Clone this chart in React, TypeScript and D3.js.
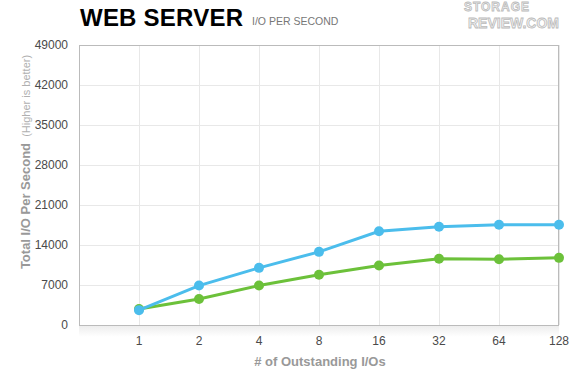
import { useEffect, useRef } from "react";
import * as d3 from "d3";

const queueDepths = ["1", "2", "4", "8", "16", "32", "64", "128"];
const blueSeries = [2600, 6900, 10000, 12800, 16400, 17200, 17550, 17550];
const greenSeries = [2800, 4550, 6900, 8800, 10400, 11600, 11500, 11750];
const yTicks = [0, 7000, 14000, 21000, 28000, 35000, 42000, 49000];

const W = 580;
const H = 390;
const margin = { top: 45, right: 21, bottom: 65, left: 79 };

const App = () => {
  const ref = useRef<SVGSVGElement>(null);

  useEffect(() => {
    const svg = d3.select(ref.current);
    svg.selectAll("*").remove();
    const font = "'Liberation Sans', Arial, Helvetica, sans-serif";

    const x = d3
      .scalePoint()
      .domain(["", ...queueDepths])
      .range([margin.left, W - margin.right]);
    const y = d3
      .scaleLinear()
      .domain([0, 49000])
      .range([H - margin.bottom, margin.top]);

    svg.append("rect").attr("width", W).attr("height", H).attr("fill", "#fff");

    // soft reflection under the plot
    const grad = svg
      .append("defs")
      .append("linearGradient")
      .attr("id", "shade")
      .attr("x1", 0)
      .attr("y1", 0)
      .attr("x2", 0)
      .attr("y2", 1);
    grad.append("stop").attr("offset", 0).attr("stop-color", "#ececec");
    grad.append("stop").attr("offset", 1).attr("stop-color", "#fff");
    svg
      .append("rect")
      .attr("x", margin.left)
      .attr("y", H - margin.bottom)
      .attr("width", W - margin.left - margin.right)
      .attr("height", 12)
      .attr("fill", "url(#shade)");

    // grid
    const grid = svg.append("g").attr("stroke", "#e8e8e8").attr("stroke-width", 1);
    grid
      .selectAll("line.h")
      .data(yTicks)
      .join("line")
      .attr("x1", margin.left)
      .attr("x2", W - margin.right)
      .attr("y1", (d) => Math.round(y(d)) + 0.5)
      .attr("y2", (d) => Math.round(y(d)) + 0.5);
    grid
      .selectAll("line.v")
      .data(queueDepths)
      .join("line")
      .attr("x1", (d) => Math.round(x(d)!) + 0.5)
      .attr("x2", (d) => Math.round(x(d)!) + 0.5)
      .attr("y1", margin.top)
      .attr("y2", H - margin.bottom);

    // frame
    svg
      .append("rect")
      .attr("x", margin.left + 0.5)
      .attr("y", margin.top + 0.5)
      .attr("width", W - margin.left - margin.right - 1)
      .attr("height", H - margin.top - margin.bottom)
      .attr("fill", "none")
      .attr("stroke", "#bbbbbb");

    // y tick labels
    svg
      .append("g")
      .selectAll("text")
      .data(yTicks)
      .join("text")
      .attr("x", 68)
      .attr("y", (d) => y(d) + 4)
      .attr("text-anchor", "end")
      .attr("font-family", font)
      .attr("font-size", 12)
      .attr("fill", "#4a4a4a")
      .text((d) => d);

    // x tick labels
    svg
      .append("g")
      .selectAll("text")
      .data(queueDepths)
      .join("text")
      .attr("x", (d) => x(d)!)
      .attr("y", 345)
      .attr("text-anchor", "middle")
      .attr("font-family", font)
      .attr("font-size", 12)
      .attr("fill", "#4a4a4a")
      .text((d) => d);

    // axis titles
    svg
      .append("text")
      .attr("x", 320)
      .attr("y", 366)
      .attr("text-anchor", "middle")
      .attr("font-family", font)
      .attr("font-weight", "bold")
      .attr("font-size", 13)
      .attr("fill", "#999")
      .text("# of Outstanding I/Os");

    const yTitle = svg
      .append("text")
      .attr("transform", "translate(30,162) rotate(-90)")
      .attr("text-anchor", "middle")
      .attr("font-family", font)
      .attr("fill", "#999");
    yTitle
      .append("tspan")
      .attr("font-weight", "bold")
      .attr("font-size", 13)
      .text("Total I/O Per Second");
    yTitle
      .append("tspan")
      .attr("font-size", 11)
      .attr("fill", "#b0b0b0")
      .text("\u00a0\u00a0(Higher is better)");

    // series
    const line = d3
      .line<number>()
      .x((_, i) => x(queueDepths[i])!)
      .y((d) => y(d));
    const series = [
      { values: greenSeries, color: "#6cc13a" },
      { values: blueSeries, color: "#4bbdec" },
    ];
    series.forEach((s) => {
      svg
        .append("path")
        .datum(s.values)
        .attr("d", line)
        .attr("fill", "none")
        .attr("stroke", s.color)
        .attr("stroke-width", 3);
      svg
        .append("g")
        .selectAll("circle")
        .data(s.values)
        .join("circle")
        .attr("cx", (_, i) => x(queueDepths[i])!)
        .attr("cy", (d) => y(d))
        .attr("r", 5)
        .attr("fill", s.color);
    });

    // title
    svg
      .append("text")
      .attr("x", 80)
      .attr("y", 26)
      .attr("font-family", font)
      .attr("font-weight", "bold")
      .attr("font-size", 24)
      .attr("textLength", 163)
      .attr("fill", "#000")
      .text("WEB SERVER");
    svg
      .append("text")
      .attr("x", 252)
      .attr("y", 25)
      .attr("font-family", font)
      .attr("font-size", 10.5)
      .attr("fill", "#777")
      .text("I/O PER SECOND");

    // logo
    const logo = svg
      .append("g")
      .attr("font-family", font)
      .attr("font-weight", "bold")
      .attr("fill", "#f2f2f2")
      .attr("stroke", "#bbb")
      .attr("stroke-width", 0.8)
      .attr("text-anchor", "end");
    logo
      .append("text")
      .attr("x", 530)
      .attr("y", 11)
      .attr("font-size", 12)
      .attr("letter-spacing", 1)
      .text("STORAGE");
    logo
      .append("text")
      .attr("x", 559)
      .attr("y", 28)
      .attr("font-size", 14)
      .text("REVIEW.COM");
  }, []);

  return (
    <svg
      ref={ref}
      width={W}
      height={H}
      style={{ position: "absolute", left: 0, top: 0, display: "block" }}
    />
  );
};

export default App;
